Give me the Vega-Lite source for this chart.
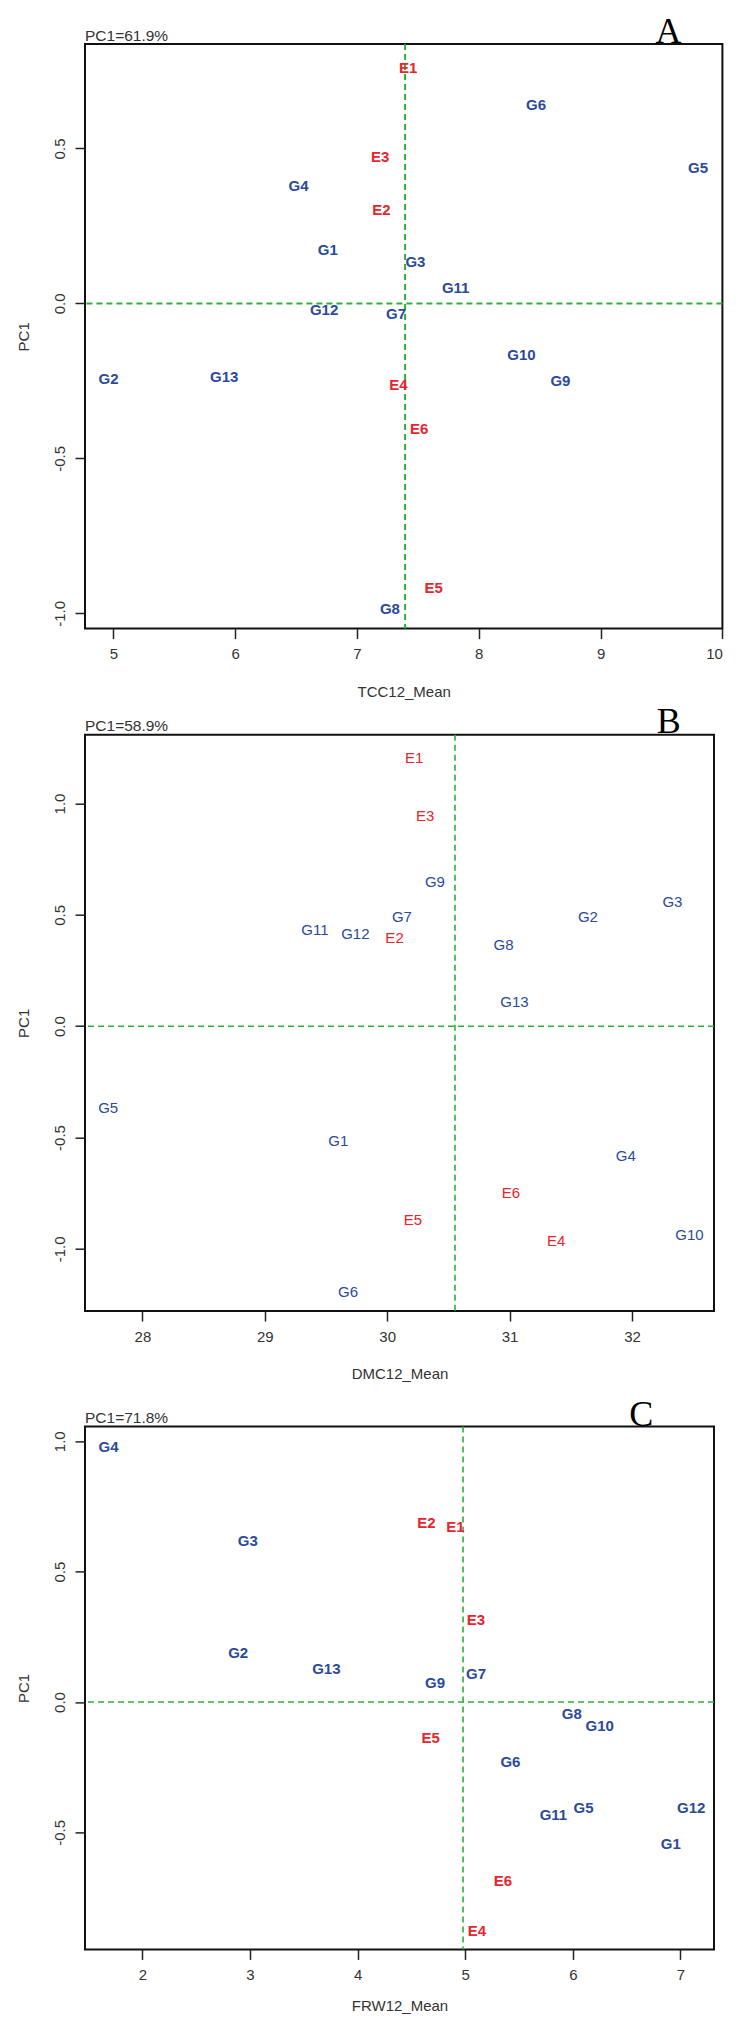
{
  "$schema": "https://vega.github.io/schema/vega-lite/v6.json",
  "background": "white",
  "padding": {"left": 15, "top": 13, "right": 5, "bottom": 5},
  "config": {
    "view": {"stroke": "#111111", "strokeWidth": 2},
    "axis": {"domain": false, "grid": false, "tickColor": "#222222", "tickWidth": 1.5, "tickSize": 10, "labelFont": "Liberation Sans", "labelFontSize": 15, "labelColor": "#333333", "labelPadding": 8, "titleFont": "Liberation Sans", "titleFontSize": 15, "titleFontWeight": "normal", "titleColor": "#333333"},
    "axisY": {"labelAngle": -90, "labelAlign": "center", "labelBaseline": "bottom", "titlePadding": 20.5},
    "axisX": {"titlePadding": 19}
  },
  "datasets": {
    "panelA": [
      {"label": "E1", "type": "E", "x": 7.42, "y": 0.760},
      {"label": "G6", "type": "G", "x": 8.47, "y": 0.639},
      {"label": "E3", "type": "E", "x": 7.19, "y": 0.471},
      {"label": "G5", "type": "G", "x": 9.80, "y": 0.436},
      {"label": "G4", "type": "G", "x": 6.52, "y": 0.380},
      {"label": "E2", "type": "E", "x": 7.20, "y": 0.300},
      {"label": "G1", "type": "G", "x": 6.76, "y": 0.174},
      {"label": "G3", "type": "G", "x": 7.48, "y": 0.133},
      {"label": "G11", "type": "G", "x": 7.81, "y": 0.049},
      {"label": "G12", "type": "G", "x": 6.73, "y": -0.022},
      {"label": "G7", "type": "G", "x": 7.32, "y": -0.033},
      {"label": "G10", "type": "G", "x": 8.35, "y": -0.167},
      {"label": "G2", "type": "G", "x": 4.96, "y": -0.245},
      {"label": "G13", "type": "G", "x": 5.91, "y": -0.238},
      {"label": "G9", "type": "G", "x": 8.67, "y": -0.250},
      {"label": "E4", "type": "E", "x": 7.34, "y": -0.264},
      {"label": "E6", "type": "E", "x": 7.51, "y": -0.406},
      {"label": "E5", "type": "E", "x": 7.63, "y": -0.918},
      {"label": "G8", "type": "G", "x": 7.27, "y": -0.986}
    ],
    "panelB": [
      {"label": "E1", "type": "E", "x": 30.22, "y": 1.203},
      {"label": "E3", "type": "E", "x": 30.31, "y": 0.946},
      {"label": "G9", "type": "G", "x": 30.39, "y": 0.648},
      {"label": "G3", "type": "G", "x": 32.33, "y": 0.559},
      {"label": "G7", "type": "G", "x": 30.12, "y": 0.491},
      {"label": "G2", "type": "G", "x": 31.64, "y": 0.489},
      {"label": "G11", "type": "G", "x": 29.41, "y": 0.434},
      {"label": "G12", "type": "G", "x": 29.74, "y": 0.413},
      {"label": "E2", "type": "E", "x": 30.06, "y": 0.395},
      {"label": "G8", "type": "G", "x": 30.95, "y": 0.364},
      {"label": "G13", "type": "G", "x": 31.04, "y": 0.109},
      {"label": "G5", "type": "G", "x": 27.72, "y": -0.368},
      {"label": "G1", "type": "G", "x": 29.60, "y": -0.514},
      {"label": "G4", "type": "G", "x": 31.95, "y": -0.582},
      {"label": "E6", "type": "E", "x": 31.01, "y": -0.748},
      {"label": "E5", "type": "E", "x": 30.21, "y": -0.869},
      {"label": "G10", "type": "G", "x": 32.47, "y": -0.937},
      {"label": "E4", "type": "E", "x": 31.38, "y": -0.964},
      {"label": "G6", "type": "G", "x": 29.68, "y": -1.192}
    ],
    "panelC": [
      {"label": "G4", "type": "G", "x": 1.685, "y": 0.978},
      {"label": "E2", "type": "E", "x": 4.64, "y": 0.688},
      {"label": "E1", "type": "E", "x": 4.91, "y": 0.671},
      {"label": "G3", "type": "G", "x": 2.98, "y": 0.617},
      {"label": "E3", "type": "E", "x": 5.10, "y": 0.313},
      {"label": "G2", "type": "G", "x": 2.89, "y": 0.189},
      {"label": "G13", "type": "G", "x": 3.71, "y": 0.125},
      {"label": "G7", "type": "G", "x": 5.10, "y": 0.108},
      {"label": "G9", "type": "G", "x": 4.72, "y": 0.071},
      {"label": "G8", "type": "G", "x": 5.99, "y": -0.047},
      {"label": "G10", "type": "G", "x": 6.25, "y": -0.091},
      {"label": "E5", "type": "E", "x": 4.68, "y": -0.139},
      {"label": "G6", "type": "G", "x": 5.42, "y": -0.230},
      {"label": "G5", "type": "G", "x": 6.10, "y": -0.406},
      {"label": "G12", "type": "G", "x": 7.10, "y": -0.406},
      {"label": "G11", "type": "G", "x": 5.82, "y": -0.435},
      {"label": "G1", "type": "G", "x": 6.91, "y": -0.546},
      {"label": "E6", "type": "E", "x": 5.35, "y": -0.685},
      {"label": "E4", "type": "E", "x": 5.11, "y": -0.879}
    ],
    "refA": [{"xm": 7.395, "y0": 0, "letter": "A", "pc": "PC1=61.9%"}],
    "refB": [{"xm": 30.554, "y0": 0, "letter": "B", "pc": "PC1=58.9%"}],
    "refC": [{"xm": 4.98, "y0": 0, "letter": "C", "pc": "PC1=71.8%"}]
  },
  "bounds": "flush",
  "spacing": 105.7,
  "vconcat": [
    {
      "width": 637.4,
      "height": 584.6,
      "layer": [
        {
          "data": {"name": "refA"},
          "mark": {"type": "rule", "color": "#2DB03A", "strokeWidth": 2, "strokeDash": [6, 4]},
          "encoding": {"x": {"field": "xm", "type": "quantitative", "scale": {"domain": [4.767, 10.0], "nice": false, "zero": false}, "axis": {"values": [5, 6, 7, 8, 9, 10], "format": "d", "title": "TCC12_Mean", "titlePadding": 23}}}
        },
        {
          "data": {"name": "refA"},
          "mark": {"type": "rule", "color": "#2DB03A", "strokeWidth": 2, "strokeDash": [6, 4]},
          "encoding": {"y": {"field": "y0", "type": "quantitative", "scale": {"domain": [-1.049, 0.837], "nice": false, "zero": false}, "axis": {"values": [-1, -0.5, 0, 0.5], "labelExpr": "datum.value < 0 ? '-' + format(-datum.value, '.1f') : format(datum.value, '.1f')", "title": "PC1"}}}
        },
        {
          "data": {"name": "panelA"},
          "mark": {"type": "text", "font": "Liberation Sans", "fontSize": 15, "fontWeight": "bold"},
          "encoding": {
            "x": {"field": "x", "type": "quantitative"},
            "y": {"field": "y", "type": "quantitative"},
            "text": {"field": "label"},
            "color": {"field": "type", "type": "nominal", "scale": {"domain": ["E", "G"], "range": ["#E8242C", "#2A4A9C"]}, "legend": null}
          }
        },
        {
          "data": {"name": "refA"},
          "mark": {"type": "text", "font": "Liberation Serif", "fontSize": 36, "baseline": "alphabetic", "color": "#000000", "clip": false},
          "encoding": {
            "x": {"datum": 9.558, "type": "quantitative"},
            "y": {"datum": 0.84, "type": "quantitative"},
            "text": {"field": "letter"}
          }
        },
        {
          "data": {"name": "refA"},
          "mark": {"type": "text", "font": "Liberation Sans", "fontSize": 15.5, "align": "left", "baseline": "alphabetic", "dy": -3.4, "color": "#333333", "clip": false},
          "encoding": {
            "x": {"datum": 4.767, "type": "quantitative"},
            "y": {"datum": 0.837, "type": "quantitative"},
            "text": {"field": "pc"}
          }
        }
      ]
    },
    {
      "bounds": "flush",
      "spacing": 114.7,
      "vconcat": [
        {
          "width": 629,
          "height": 576.3,
          "layer": [
            {
              "data": {"name": "refB"},
              "mark": {"type": "rule", "color": "#2DB03A", "strokeWidth": 1.6, "strokeDash": [6, 4]},
              "encoding": {"x": {"field": "xm", "type": "quantitative", "scale": {"domain": [27.531, 32.67], "nice": false, "zero": false}, "axis": {"values": [28, 29, 30, 31, 32], "format": "d", "title": "DMC12_Mean", "titlePadding": 22}}}
            },
            {
              "data": {"name": "refB"},
              "mark": {"type": "rule", "color": "#2DB03A", "strokeWidth": 1.6, "strokeDash": [6, 4]},
              "encoding": {"y": {"field": "y0", "type": "quantitative", "scale": {"domain": [-1.279, 1.309], "nice": false, "zero": false}, "axis": {"values": [-1, -0.5, 0, 0.5, 1], "labelExpr": "datum.value < 0 ? '-' + format(-datum.value, '.1f') : format(datum.value, '.1f')", "title": "PC1"}}}
            },
            {
              "data": {"name": "panelB"},
              "mark": {"type": "text", "font": "Liberation Sans", "fontSize": 15},
              "encoding": {
                "x": {"field": "x", "type": "quantitative"},
                "y": {"field": "y", "type": "quantitative"},
                "text": {"field": "label"},
                "color": {"field": "type", "type": "nominal", "scale": {"domain": ["E", "G"], "range": ["#E8242C", "#2A4A9C"]}, "legend": null}
              }
            },
            {
              "data": {"name": "refB"},
              "mark": {"type": "text", "font": "Liberation Serif", "fontSize": 36, "baseline": "alphabetic", "color": "#000000", "clip": false},
              "encoding": {
                "x": {"datum": 32.30, "type": "quantitative"},
                "y": {"datum": 1.315, "type": "quantitative"},
                "text": {"field": "letter"}
              }
            },
            {
              "data": {"name": "refB"},
              "mark": {"type": "text", "font": "Liberation Sans", "fontSize": 15.5, "align": "left", "baseline": "alphabetic", "dy": -3.4, "color": "#333333", "clip": false},
              "encoding": {
                "x": {"datum": 27.531, "type": "quantitative"},
                "y": {"datum": 1.309, "type": "quantitative"},
                "text": {"field": "pc"}
              }
            }
          ]
        },
        {
          "width": 629,
          "height": 523,
          "layer": [
            {
              "data": {"name": "refC"},
              "mark": {"type": "rule", "color": "#2DB03A", "strokeWidth": 1.6, "strokeDash": [6, 4]},
              "encoding": {"x": {"field": "xm", "type": "quantitative", "scale": {"domain": [1.467, 7.312], "nice": false, "zero": false}, "axis": {"values": [2, 3, 4, 5, 6, 7], "format": "d", "title": "FRW12_Mean", "titlePadding": 16}}}
            },
            {
              "data": {"name": "refC"},
              "mark": {"type": "rule", "color": "#2DB03A", "strokeWidth": 1.6, "strokeDash": [6, 4]},
              "encoding": {"y": {"field": "y0", "type": "quantitative", "scale": {"domain": [-0.949, 1.057], "nice": false, "zero": false}, "axis": {"values": [-0.5, 0, 0.5, 1], "labelExpr": "datum.value < 0 ? '-' + format(-datum.value, '.1f') : format(datum.value, '.1f')", "title": "PC1"}}}
            },
            {
              "data": {"name": "panelC"},
              "mark": {"type": "text", "font": "Liberation Sans", "fontSize": 15, "fontWeight": "bold"},
              "encoding": {
                "x": {"field": "x", "type": "quantitative"},
                "y": {"field": "y", "type": "quantitative"},
                "text": {"field": "label"},
                "color": {"field": "type", "type": "nominal", "scale": {"domain": ["E", "G"], "range": ["#E8242C", "#2A4A9C"]}, "legend": null}
              }
            },
            {
              "data": {"name": "refC"},
              "mark": {"type": "text", "font": "Liberation Serif", "fontSize": 36, "baseline": "alphabetic", "color": "#000000", "clip": false},
              "encoding": {
                "x": {"datum": 6.637, "type": "quantitative"},
                "y": {"datum": 1.057, "type": "quantitative"},
                "text": {"field": "letter"}
              }
            },
            {
              "data": {"name": "refC"},
              "mark": {"type": "text", "font": "Liberation Sans", "fontSize": 15.5, "align": "left", "baseline": "alphabetic", "dy": -3.4, "color": "#333333", "clip": false},
              "encoding": {
                "x": {"datum": 1.467, "type": "quantitative"},
                "y": {"datum": 1.057, "type": "quantitative"},
                "text": {"field": "pc"}
              }
            }
          ]
        }
      ]
    }
  ]
}
